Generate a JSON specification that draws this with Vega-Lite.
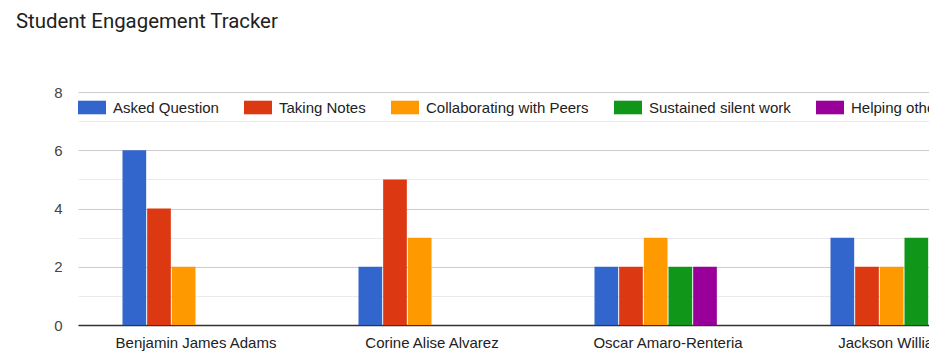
{
  "$schema": "https://vega.github.io/schema/vega-lite/v6.json",
  "width": 851,
  "height": 233,
  "autosize": {"type": "none"},
  "padding": {"left": 78, "top": 92, "right": 0, "bottom": 37},
  "background": "white",
  "title": {
    "text": "Student Engagement Tracker",
    "anchor": "start",
    "frame": "group",
    "orient": "top",
    "dx": -62,
    "offset": 37,
    "baseline": "alphabetic",
    "font": "Roboto",
    "fontSize": 20.4,
    "fontWeight": "normal",
    "color": "#212121"
  },
  "data": {
    "values": [
      {"student": "Benjamin James Adams", "activity": "Asked Question", "count": 6},
      {"student": "Benjamin James Adams", "activity": "Taking Notes", "count": 4},
      {"student": "Benjamin James Adams", "activity": "Collaborating with Peers", "count": 2},
      {"student": "Benjamin James Adams", "activity": "Sustained silent work", "count": 0},
      {"student": "Benjamin James Adams", "activity": "Helping others", "count": 0},
      {"student": "Corine Alise Alvarez", "activity": "Asked Question", "count": 2},
      {"student": "Corine Alise Alvarez", "activity": "Taking Notes", "count": 5},
      {"student": "Corine Alise Alvarez", "activity": "Collaborating with Peers", "count": 3},
      {"student": "Corine Alise Alvarez", "activity": "Sustained silent work", "count": 0},
      {"student": "Corine Alise Alvarez", "activity": "Helping others", "count": 0},
      {"student": "Oscar Amaro-Renteria", "activity": "Asked Question", "count": 2},
      {"student": "Oscar Amaro-Renteria", "activity": "Taking Notes", "count": 2},
      {"student": "Oscar Amaro-Renteria", "activity": "Collaborating with Peers", "count": 3},
      {"student": "Oscar Amaro-Renteria", "activity": "Sustained silent work", "count": 2},
      {"student": "Oscar Amaro-Renteria", "activity": "Helping others", "count": 2},
      {"student": "Jackson Williamson", "activity": "Asked Question", "count": 3},
      {"student": "Jackson Williamson", "activity": "Taking Notes", "count": 2},
      {"student": "Jackson Williamson", "activity": "Collaborating with Peers", "count": 2},
      {"student": "Jackson Williamson", "activity": "Sustained silent work", "count": 3},
      {"student": "Jackson Williamson", "activity": "Helping others", "count": 0}
    ]
  },
  "mark": {"type": "bar"},
  "encoding": {
    "x": {
      "field": "student",
      "type": "nominal",
      "sort": ["Benjamin James Adams", "Corine Alise Alvarez", "Oscar Amaro-Renteria", "Jackson Williamson"],
      "scale": {"range": [0, 944], "paddingInner": 0.377, "paddingOuter": 0.1885},
      "axis": {
        "title": null,
        "labelAngle": 0,
        "labelFont": "Liberation Sans",
        "labelFontSize": 15,
        "labelColor": "#222222",
        "labelPadding": 10,
        "labelLimit": 400,
        "ticks": false,
        "domainColor": "#333333",
        "domainWidth": 1.5,
        "grid": false
      }
    },
    "xOffset": {
      "field": "activity",
      "type": "nominal",
      "sort": ["Asked Question", "Taking Notes", "Collaborating with Peers", "Sustained silent work", "Helping others"],
      "scale": {"paddingInner": 0.04, "paddingOuter": 0.5, "align": 0}
    },
    "y": {
      "field": "count",
      "type": "quantitative",
      "scale": {"domain": [0, 8], "nice": false},
      "axis": {
        "title": null,
        "values": [0, 1, 2, 3, 4, 5, 6, 7, 8],
        "labelExpr": "datum.value % 2 ? '' : datum.label",
        "labelFont": "Liberation Sans",
        "labelFontSize": 15,
        "labelColor": "#444444",
        "labelPadding": 16,
        "ticks": false,
        "domain": false,
        "grid": true,
        "gridColor": {"condition": {"test": "datum.value % 2 === 0", "value": "#cccccc"}, "value": "#ebebeb"},
        "gridWidth": 1
      }
    },
    "color": {
      "field": "activity",
      "type": "nominal",
      "sort": ["Asked Question", "Taking Notes", "Collaborating with Peers", "Sustained silent work", "Helping others"],
      "scale": {
        "domain": ["Asked Question", "Taking Notes", "Collaborating with Peers", "Sustained silent work", "Helping others"],
        "range": ["#3366cc", "#dc3912", "#ff9900", "#109618", "#990099"]
      },
      "legend": {
        "title": null,
        "orient": "none",
        "direction": "horizontal",
        "legendX": 0,
        "legendY": 1.5,
        "padding": 0,
        "symbolType": "M-1,-0.486H1V0.486H-1Z",
        "symbolSize": 784,
        "symbolStrokeWidth": 0,
        "symbolOpacity": 1,
        "labelFont": "Liberation Sans",
        "labelFontSize": 15,
        "labelColor": "#222222",
        "labelOffset": 7,
        "labelLimit": 400,
        "columnPadding": 25,
        "columns": 10
      }
    }
  },
  "config": {"view": {"stroke": null}}
}
